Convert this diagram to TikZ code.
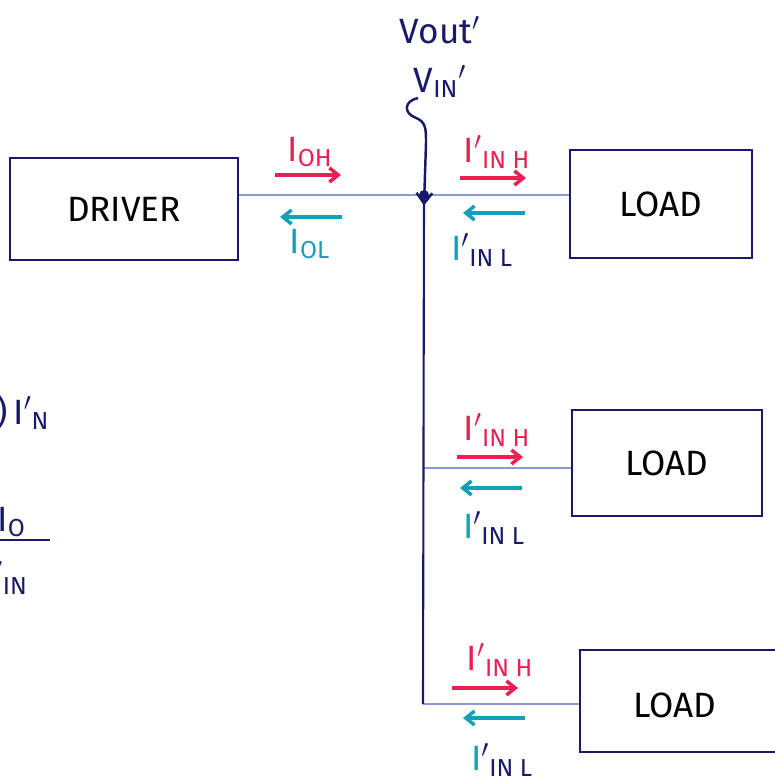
\documentclass[tikz,border=0pt]{standalone}
\usepackage{amsmath}
\usepackage{fontspec}
\setmainfont{Fira Sans}
\usetikzlibrary{positioning,arrows.meta}
\definecolor{ink}{rgb}{0.10,0.10,0.42}
\definecolor{wire}{rgb}{0.55,0.60,0.86}
\definecolor{hired}{rgb}{0.92,0.12,0.32}
\definecolor{lowteal}{rgb}{0.10,0.62,0.72}
\newcommand{\curH}{I$'$\textsubscript{IN H}}
\newcommand{\curL}{\textcolor{lowteal}{I}\textcolor{ink}{$'$\textsubscript{IN L}}}

\begin{document}
\begin{tikzpicture}[x=0.02cm, y=-0.02cm, every node/.style={font=\fontsize{20}{22}\selectfont}]
\tikzstyle{unit}=[draw=ink, line width=1.2pt, minimum height=2.1cm, inner sep=0pt]
\tikzstyle{bus}=[wire, line width=1.6pt]
\tikzstyle{tap}=[ink, line width=1.2pt]
\tikzstyle{hiarr}=[hired, line width=2pt, -{Straight Barb[length=5pt,width=8pt]}]
\tikzstyle{loarr}=[lowteal, line width=2pt, -{Straight Barb[length=5pt,width=8pt]}]
\useasboundingbox (0,0) rectangle (774,783);
% units
\node[unit, minimum width=4.56cm, minimum height=2.04cm] (drv) at (124,209) {DRIVER};
\node[unit, minimum width=3.64cm, minimum height=2.16cm] (ld1) at (661,204) {LOAD};
\node[unit, minimum width=3.80cm, minimum height=2.12cm] (ld2) at (667,463) {LOAD};
\node[unit, minimum width=4.20cm, minimum height=2.04cm] (ld3) at (685,701) {};
\node at (675,705) {LOAD};
% wiring
\coordinate (j) at (424,195);
\coordinate (b2) at (424,468);
\coordinate (b3) at (423,704);
\draw[bus] (j -| drv.east) -- (j) -- (j -| ld1.west);
\draw[bus] (b2) -- (b2 -| ld2.west);
\draw[bus] (b3) -- (b3 -| ld3.west);
\draw[tap] (j) -- (b3);
\fill[ink] (j) circle (5);
% driven voltage
\node[ink] (vout) at (440,30) {Vout$'$};
\node[ink, below=5pt of vout] (vin) {V\textsubscript{IN}$'$};
\coordinate (sq) at (418,98);
\draw[ink, line width=1.4pt, -{Straight Barb[length=6pt,width=9pt]}]
  (sq) .. controls (404,101) and (403,113) .. (416,118)
  .. controls (426,122) and (426,129) .. (426,143) -- ([yshift=-6]j);
% currents
\foreach \n/\x/\y in {1/275/175, 2/460/178, 3/457/457, 4/452/688}
  \coordinate (h\n) at (\x,\y);
\foreach \n/\x/\y in {1/342/217, 2/525/213, 3/522/488, 4/525/718}
  \coordinate (l\n) at (\x,\y);
\foreach \n in {1,...,4} {
  \draw[hiarr] (h\n) -- ++(66,0);
  \draw[loarr] (l\n) -- ++(-62,0);
}
\node[hired] (oh) at (310,152) {I\textsubscript{OH}};
\node[lowteal] (ol) at (310,244) {I\textsubscript{OL}};
\node[hired] (ih1) at (497,152) {\curH};
\node (il1) at (482,250) {\curL};
\node[hired] (ih2) at (497,430) {\curH};
\node (il2) at (494,528) {\curL};
\node[hired] (ih3) at (500,660) {\curH};
\node (il3) at (502,760) {\curL};
% notes at the edge
\node[ink, anchor=west] (fan) at (-10,412) {)\,I$'$\textsubscript{N}};
\node[ink, anchor=east] (num) at (32,522) {I\textsubscript{O}};
\draw[ink, line width=1.2pt] (-5,540) -- (50,540);
\node[ink, anchor=east] (den) at (34,578) {I$'$\textsubscript{IN}};
\end{tikzpicture}
\end{document}
